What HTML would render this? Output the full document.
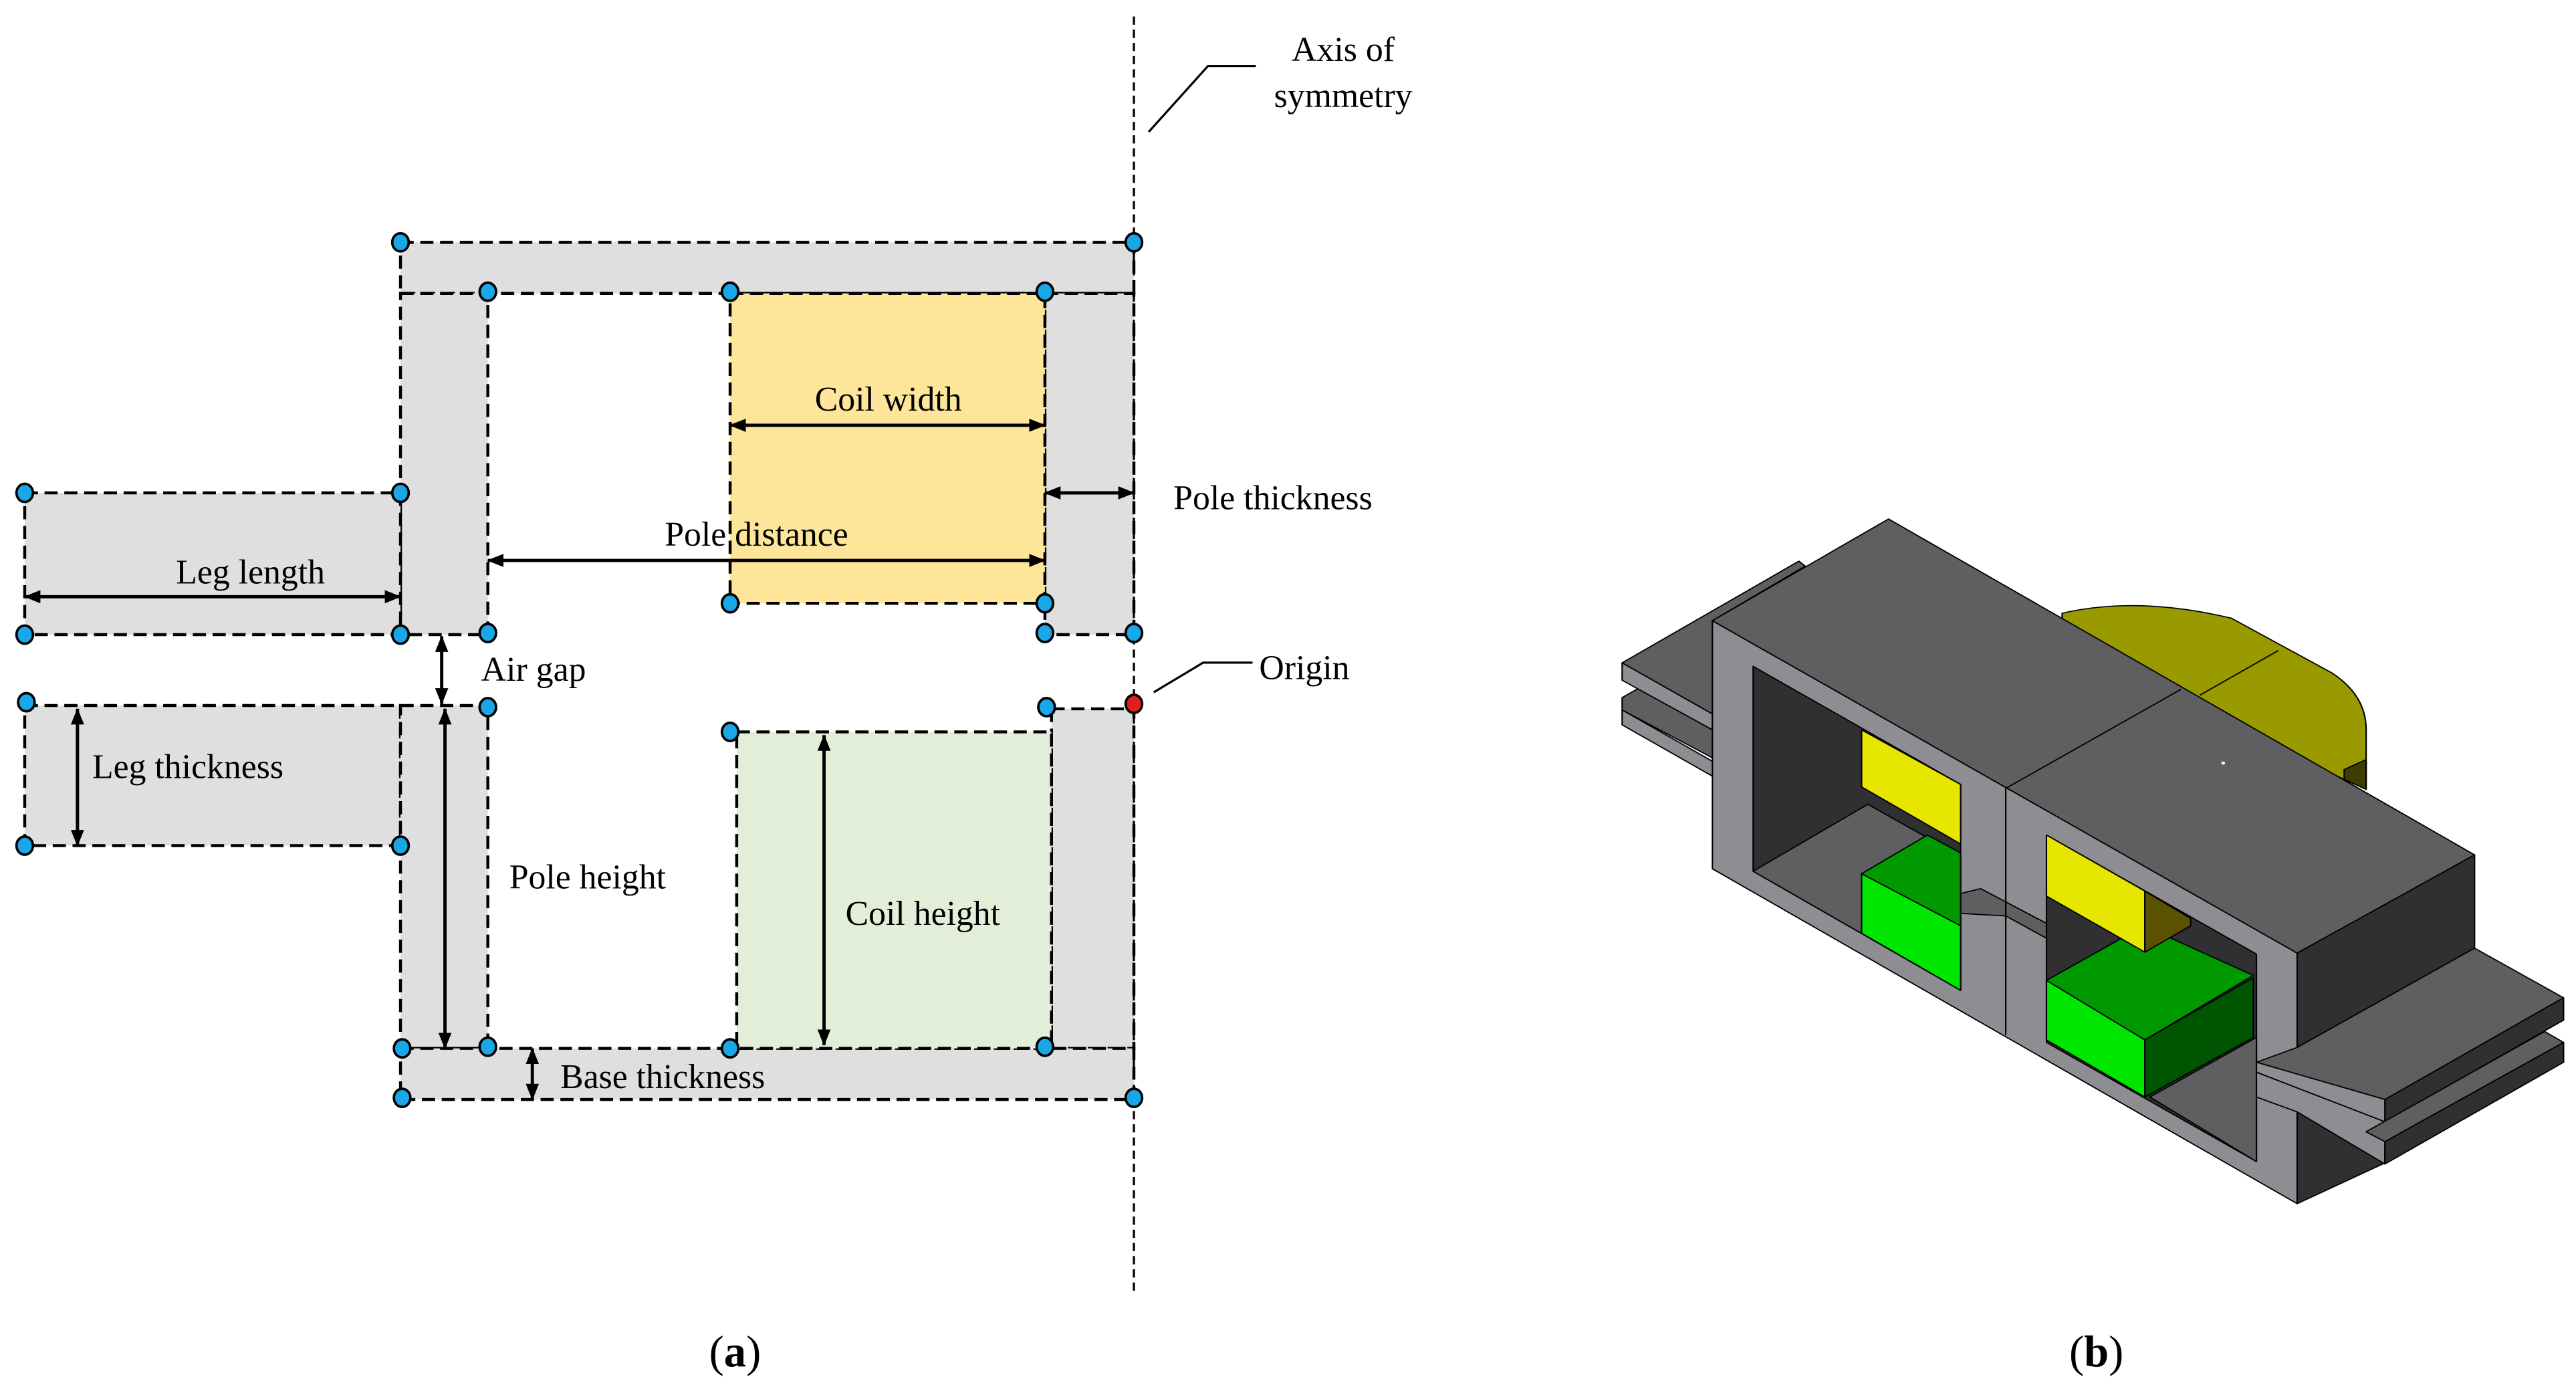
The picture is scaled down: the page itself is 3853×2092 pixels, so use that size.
<!DOCTYPE html>
<html><head><meta charset="utf-8"><style>html,body{margin:0;padding:0;background:#fff}svg{display:block}svg text{font-family:"Liberation Serif","DejaVu Serif",serif !important}</style></head>
<body>
<svg width="3853" height="2092" viewBox="0 0 1563 848.7" preserveAspectRatio="none" xmlns="http://www.w3.org/2000/svg">
<defs>
<marker id="ah" markerWidth="10" markerHeight="8" refX="9.5" refY="4" orient="auto-start-reverse" markerUnits="userSpaceOnUse"><path d="M0,0 L10,4 L0,8 Z" fill="#000"/></marker>
</defs>
<g fill="#dfdfdf" stroke="#000" stroke-width="1.8" stroke-dasharray="8,4">
<rect x="243" y="147" width="445" height="31"/>
<rect x="243" y="178" width="53" height="207"/>
<rect x="634" y="178" width="54" height="207"/>
<rect x="15" y="299" width="228" height="86"/>
<rect x="15" y="428" width="228" height="85"/>
<rect x="243" y="428" width="53" height="208"/>
<rect x="638" y="430" width="50" height="206"/>
<rect x="243" y="636" width="445" height="31"/>
<rect x="443" y="178" width="191" height="188" fill="#fde59a"/>
<rect x="447" y="444" width="191" height="192" fill="#e2eed8"/>
</g>
<line x1="688" y1="10" x2="688" y2="785" stroke="#000" stroke-width="1.3" stroke-dasharray="5,3"/>
<polyline points="697,80 733,40 762,40" fill="none" stroke="#000" stroke-width="1.3"/>
<polyline points="700,420 730,402 760,402" fill="none" stroke="#000" stroke-width="1.3"/>
<g stroke="#000" stroke-width="2" marker-start="url(#ah)" marker-end="url(#ah)">
<line x1="443" y1="258" x2="634" y2="258"/>
<line x1="634" y1="299" x2="688" y2="299"/>
<line x1="296" y1="340" x2="634" y2="340"/>
<line x1="15" y1="362" x2="243" y2="362"/>
<line x1="268" y1="386" x2="268" y2="427"/>
<line x1="47" y1="430" x2="47" y2="513"/>
<line x1="270" y1="430" x2="270" y2="636"/>
<line x1="500" y1="446" x2="500" y2="634"/>
<line x1="323" y1="636" x2="323" y2="667"/>
</g>
<g fill="#1aa7e8" stroke="#000" stroke-width="1.5">
<ellipse cx="243" cy="147" rx="5" ry="5.5"/><ellipse cx="688" cy="147" rx="5" ry="5.5"/>
<ellipse cx="296" cy="177" rx="5" ry="5.5"/><ellipse cx="443" cy="177" rx="5" ry="5.5"/><ellipse cx="634" cy="177" rx="5" ry="5.5"/>
<ellipse cx="15" cy="299" rx="5" ry="5.5"/><ellipse cx="243" cy="299" rx="5" ry="5.5"/>
<ellipse cx="15" cy="385" rx="5" ry="5.5"/><ellipse cx="243" cy="385" rx="5" ry="5.5"/><ellipse cx="296" cy="384" rx="5" ry="5.5"/>
<ellipse cx="443" cy="366" rx="5" ry="5.5"/><ellipse cx="634" cy="366" rx="5" ry="5.5"/><ellipse cx="634" cy="384" rx="5" ry="5.5"/><ellipse cx="688" cy="384" rx="5" ry="5.5"/>
<ellipse cx="16" cy="426" rx="5" ry="5.5"/><ellipse cx="296" cy="429" rx="5" ry="5.5"/><ellipse cx="443" cy="444" rx="5" ry="5.5"/><ellipse cx="635" cy="429" rx="5" ry="5.5"/>
<ellipse cx="15" cy="513" rx="5" ry="5.5"/><ellipse cx="243" cy="513" rx="5" ry="5.5"/>
<ellipse cx="296" cy="635" rx="5" ry="5.5"/><ellipse cx="443" cy="636" rx="5" ry="5.5"/><ellipse cx="634" cy="635" rx="5" ry="5.5"/>
<ellipse cx="244" cy="636" rx="5" ry="5.5"/><ellipse cx="244" cy="666" rx="5" ry="5.5"/><ellipse cx="688" cy="666" rx="5" ry="5.5"/>
<ellipse cx="688" cy="427" rx="5" ry="5.5" fill="#e02020"/>
</g>
<g font-size="21" fill="#000" font-family="Liberation Serif">
<text x="539" y="249" text-anchor="middle">Coil width</text>
<text x="712" y="309">Pole thickness</text>
<text x="459" y="331" text-anchor="middle">Pole distance</text>
<text x="152" y="354" text-anchor="middle">Leg length</text>
<text x="292" y="413">Air gap</text>
<text x="56" y="472">Leg thickness</text>
<text x="309" y="539">Pole height</text>
<text x="513" y="561">Coil height</text>
<text x="340" y="660">Base thickness</text>
<text x="815" y="37" text-anchor="middle">Axis of</text>
<text x="815" y="65" text-anchor="middle">symmetry</text>
<text x="764" y="412">Origin</text>
</g>
<g font-size="27" fill="#000" font-family="Liberation Serif">
<text x="446" y="829" text-anchor="middle">(<tspan font-weight="bold">a</tspan>)</text>
<text x="1272" y="829" text-anchor="middle">(<tspan font-weight="bold">b</tspan>)</text>
</g>
<g transform="translate(973.6,304.3) scale(0.3803,0.301)" stroke="#000" stroke-width="2.3" stroke-linejoin="round">
<path d="M730,225 Q850,190 1000,235 L1160,345 Q1215,390 1215,460 L1215,580 L730,300 Z" fill="#999900"/>
<path d="M1180,540 L1215,520 L1215,580 L1180,560 Z" fill="#3d3d00"/>
<line x1="1075" y1="300" x2="950" y2="390"/>
<path d="M28,395 L60,372 L237,500 L237,560 L28,420 Z" fill="#5f5f61"/>
<path d="M28,420 L237,570 L237,600 L28,450 Z" fill="#8e8e92"/>
<path d="M28,325 L310,120 L320,130 L172,240 L172,428 Z" fill="#5f5f61"/>
<path d="M28,325 L172,428 L172,460 L28,360 Z" fill="#8e8e92"/>
<path d="M172,240 L1105,910 L1105,1415 L172,740 Z" fill="#8e8e92"/>
<path d="M172,240 L453,35 L1388,712 L1105,910 Z" fill="#5f5f61"/>
<path d="M1105,910 L1388,712 L1388,900 L1105,1100 Z" fill="#303032"/>
<line x1="920" y1="378" x2="640" y2="578"/>
<path d="M237,332 L568,570 L568,985 L237,745 Z" fill="#303032"/>
<path d="M237,745 L420,610 L568,715 L568,985 Z" fill="#5f5f61"/>
<path d="M705,672 L1040,912 L1040,1330 L705,1090 Z" fill="#303032"/>
<path d="M870,1200 L1040,1080 L1040,1330 Z" fill="#5f5f61"/>
<path d="M568,790 L600,780 L705,850 L705,880 L640,835 L568,830 Z" fill="#5f5f61"/>
<line x1="640" y1="578" x2="640" y2="1075"/>
<path d="M410,460 L568,570 L568,690 L410,575 Z" fill="#e6e600"/>
<path d="M410,750 L515,672 L568,708 L568,855 Z" fill="#009900"/>
<path d="M410,750 L568,855 L568,985 L410,870 Z" fill="#00e600"/>
<path d="M705,965 L860,855 L1035,955 L862,1085 Z" fill="#009900"/>
<path d="M705,965 L862,1085 L862,1200 L705,1085 Z" fill="#00e600"/>
<path d="M862,1085 L1035,960 L1035,1080 L862,1200 Z" fill="#005500"/>
<path d="M705,672 L862,785 L862,908 L705,795 Z" fill="#e6e600"/>
<path d="M862,785 L935,840 L935,855 L862,908 Z" fill="#5a5200"/>
<path d="M1105,1230 L1250,1330 L1105,1415 Z" fill="#303032"/>
<path d="M1040,1130 L1105,1100 L1388,900 L1530,1000 L1245,1205 Z" fill="#5f5f61"/>
<path d="M1245,1205 L1530,1000 L1530,1045 L1245,1250 Z" fill="#303032"/>
<path d="M1040,1130 L1245,1205 L1245,1250 L1040,1150 Z" fill="#8e8e92"/>
<path d="M1040,1150 L1245,1250 L1245,1335 L1105,1230 L1040,1200 Z" fill="#8e8e92"/>
<path d="M1215,1270 L1500,1068 L1530,1090 L1245,1290 Z" fill="#5f5f61"/>
<path d="M1245,1290 L1530,1090 L1530,1130 L1245,1335 Z" fill="#303032"/>
<circle cx="987" cy="527" r="3" fill="#fff" stroke="none"/>
</g>
</svg>
</body></html>
